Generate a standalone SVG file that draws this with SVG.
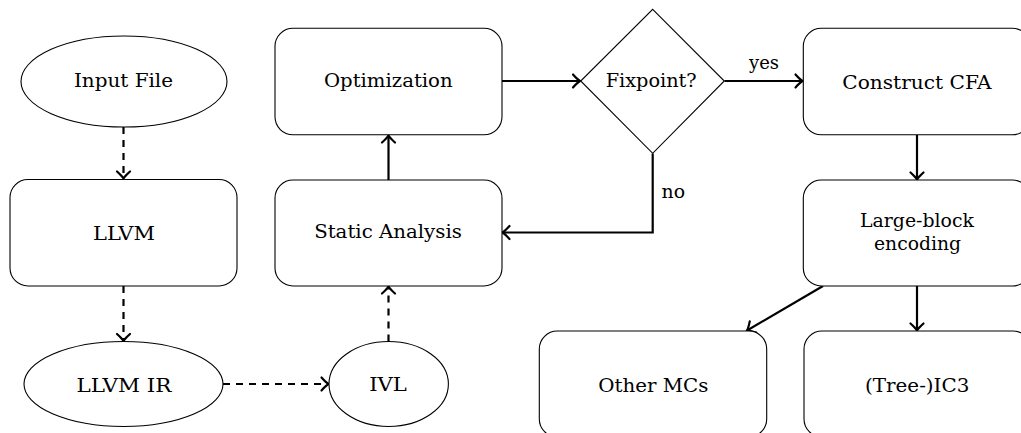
<svg xmlns="http://www.w3.org/2000/svg" width="1021" height="433" viewBox="0 0 1021 433">
  <style>
    .node { fill: #ffffff; stroke: #000000; stroke-width: 1.1; }
    .label { font-family: "DejaVu Serif", "Liberation Serif", serif; font-size: 18.5px; fill: #000000; text-anchor: middle; }
    .edge { fill: none; stroke: #000000; stroke-width: 2.2; }
    .dashed { stroke-dasharray: 7 6; }
  </style>
  <defs>
    <marker id="tip" markerUnits="userSpaceOnUse" viewBox="-10 -8 12 16" refX="0" refY="0" markerWidth="12" markerHeight="16" orient="auto" overflow="visible">
      <path d="M -7,-6.5 Q -2.5,-1.5 0,0 Q -2.5,1.5 -7,6.5" fill="none" stroke="#000000" stroke-width="2.2" stroke-linecap="round" stroke-dasharray="none"/>
    </marker>
  </defs>

  <rect width="1021" height="433" fill="#ffffff"/>

  <!-- connectors -->
  <g id="edges">
    <path class="edge dashed" d="M 123.5,127 V 178.5" marker-end="url(#tip)"/>
    <path class="edge dashed" d="M 123.5,286 V 341" marker-end="url(#tip)"/>
    <path class="edge dashed" d="M 223,384 H 328.5" marker-end="url(#tip)"/>
    <path class="edge dashed" d="M 388.5,341.5 V 286.5" marker-end="url(#tip)"/>
    <path class="edge" d="M 388.5,180 V 135.5" marker-end="url(#tip)"/>
    <path class="edge" d="M 502,81 H 580" marker-end="url(#tip)"/>
    <path class="edge" d="M 724.5,81 H 802.5" marker-end="url(#tip)"/>
    <path class="edge" d="M 652.7,153.5 V 232.5 H 502.5" marker-end="url(#tip)"/>
    <path class="edge" d="M 917,135 V 179.5" marker-end="url(#tip)"/>
    <path class="edge" d="M 823,286 L 747,330.5" marker-end="url(#tip)"/>
    <path class="edge" d="M 917,286 V 330.5" marker-end="url(#tip)"/>
    <text class="label" x="764" y="69" textLength="30" lengthAdjust="spacingAndGlyphs">yes</text>
    <text class="label" x="673.3" y="198.3" textLength="23.5" lengthAdjust="spacingAndGlyphs">no</text>
  </g>

  <g id="input-file">
    <ellipse class="node" cx="124" cy="81.5" rx="103" ry="45.5"/>
    <text class="label" x="123.5" y="86.7" textLength="99" lengthAdjust="spacingAndGlyphs">Input File</text>
  </g>

  <g id="llvm">
    <rect class="node" x="10" y="179.5" width="227" height="106.5" rx="18" ry="18"/>
    <text class="label" x="124" y="240" textLength="62" lengthAdjust="spacingAndGlyphs">LLVM</text>
  </g>

  <g id="llvm-ir">
    <ellipse class="node" cx="123.5" cy="384" rx="99.5" ry="42.5"/>
    <text class="label" x="124" y="391.7" textLength="95" lengthAdjust="spacingAndGlyphs">LLVM IR</text>
  </g>

  <g id="ivl">
    <ellipse class="node" cx="388.7" cy="384" rx="59.7" ry="42.5"/>
    <text class="label" x="388" y="391.2" textLength="37.7" lengthAdjust="spacingAndGlyphs">IVL</text>
  </g>

  <g id="static-analysis">
    <rect class="node" x="275" y="180" width="227" height="106" rx="18" ry="18"/>
    <text class="label" x="388" y="238.3" textLength="147.7" lengthAdjust="spacingAndGlyphs">Static Analysis</text>
  </g>

  <g id="optimization">
    <rect class="node" x="275" y="28.3" width="227" height="106.5" rx="18" ry="18"/>
    <text class="label" x="388.3" y="87" textLength="128.7" lengthAdjust="spacingAndGlyphs">Optimization</text>
  </g>

  <g id="fixpoint">
    <polygon class="node" points="652.7,9.3 724.3,81 652.7,153.3 580.7,81"/>
    <text class="label" x="651.2" y="87.3" textLength="91" lengthAdjust="spacingAndGlyphs">Fixpoint?</text>
  </g>

  <g id="construct-cfa">
    <rect class="node" x="803.3" y="28.3" width="227" height="106.5" rx="18" ry="18"/>
    <text class="label" x="917" y="89.3" textLength="149.3" lengthAdjust="spacingAndGlyphs">Construct CFA</text>
  </g>

  <g id="large-block-encoding">
    <rect class="node" x="803.3" y="180" width="227" height="106" rx="18" ry="18"/>
    <text class="label" x="917" y="226.7" textLength="114" lengthAdjust="spacingAndGlyphs">Large-block</text>
    <text class="label" x="917.5" y="250" textLength="87" lengthAdjust="spacingAndGlyphs">encoding</text>
  </g>

  <g id="other-mcs">
    <rect class="node" x="539.3" y="331" width="227.4" height="106" rx="18" ry="18"/>
    <text class="label" x="653.3" y="391.7" textLength="110" lengthAdjust="spacingAndGlyphs">Other MCs</text>
  </g>

  <g id="tree-ic3">
    <rect class="node" x="804" y="331" width="227" height="106" rx="18" ry="18"/>
    <text class="label" x="917.2" y="391.7" textLength="104.3" lengthAdjust="spacingAndGlyphs">(Tree-)IC3</text>
  </g>
</svg>
